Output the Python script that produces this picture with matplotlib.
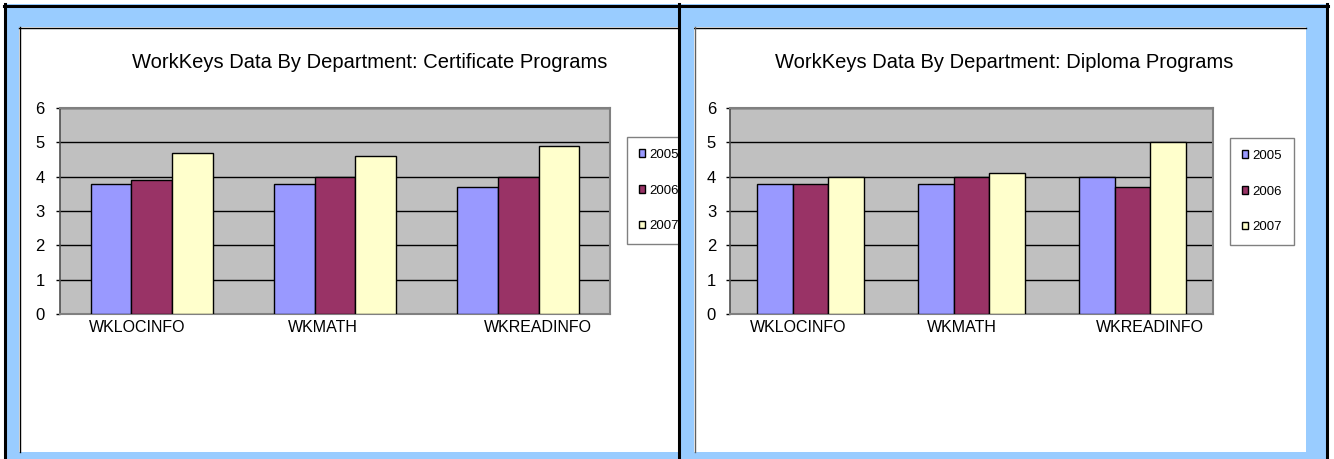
import matplotlib
matplotlib.use("Agg")
import matplotlib.pyplot as plt
import matplotlib.font_manager as fm
from matplotlib.patches import Rectangle
from matplotlib.lines import Line2D
from matplotlib.transforms import ScaledTranslation

# ---------------- data ----------------
categories = ["WKLOCINFO", "WKMATH", "WKREADINFO"]
years = ["2005", "2006", "2007"]
cert_2005 = [3.8, 3.8, 3.7]
cert_2006 = [3.9, 4.0, 4.0]
cert_2007 = [4.7, 4.6, 4.9]
dipl_2005 = [3.8, 3.8, 4.0]
dipl_2006 = [3.8, 4.0, 3.7]
dipl_2007 = [4.0, 4.1, 5.0]
title_cert = "WorkKeys Data By Department: Certificate Programs"
title_dipl = "WorkKeys Data By Department: Diploma Programs"
y_ticks = [0, 1, 2, 3, 4, 5, 6]

# ---------------- style ----------------
colors = ["#9999FF", "#993366", "#FFFFCC"]
BLUE = "#99CCFF"
PLOT_BG = "#C0C0C0"


def pick_font(names):
    for n in names:
        try:
            fm.findfont(fm.FontProperties(family=n), fallback_to_default=False)
            return n
        except Exception:
            pass
    return "DejaVu Sans"


FONT = pick_font(["Liberation Sans Narrow", "Liberation Sans", "DejaVu Sans"])
plt.rcParams["font.family"] = [FONT, "DejaVu Sans"]

W, H = 1334, 459
fig = plt.figure(figsize=(W / 100, H / 100), dpi=100, facecolor="white")


def fx(x):
    return x / W


def fy(y):
    return 1 - y / H


def rect(x0, y0, x1, y1, **kw):
    r = Rectangle((fx(x0), fy(y1)), fx(x1) - fx(x0), fy(y0) - fy(y1),
                  transform=fig.transFigure, **kw)
    fig.add_artist(r)
    return r


def hline(x0, x1, y, **kw):
    fig.add_artist(Line2D([fx(x0), fx(x1)], [fy(y), fy(y)], transform=fig.transFigure, **kw))


def vline(x, y0, y1, **kw):
    fig.add_artist(Line2D([fx(x), fx(x)], [fy(y0), fy(y1)], transform=fig.transFigure, **kw))


# background frame
rect(4, 4, 1328, 459, facecolor=BLUE, edgecolor="none", zorder=-10)
# white panels
rect(19, 27, 679, 452, facecolor="white", edgecolor="none", zorder=-5)
rect(694, 27, 1306, 452, facecolor="white", edgecolor="none", zorder=-5)
hline(19, 679, 27.5, color="black", lw=1, zorder=-4)
vline(19.5, 27, 452, color="black", lw=1, zorder=-4)
hline(694, 1306, 27.5, color="black", lw=1, zorder=-4)
vline(694.5, 27, 452, color="#606060", lw=1, zorder=-4)
# divider strip (covers clipped legend)
rect(679, 27, 694, 452, facecolor=BLUE, edgecolor="none", zorder=10)
# outer black borders
hline(4, 1328, 5.5, color="black", lw=2.2, zorder=11)
vline(5, 4, 459, color="black", lw=2.2, zorder=11)
vline(1327, 4, 459, color="black", lw=2.2, zorder=11)
vline(679, 4, 459, color="black", lw=2.2, zorder=11)


def make_chart(left, right, top, bottom, v05, v06, v07, title, title_cx,
               legend_x, legend_y, label_offsets, ypad):
    ax = fig.add_axes([fx(left), fy(bottom), fx(right) - fx(left), fy(top) - fy(bottom)])
    ax.set_facecolor(PLOT_BG)
    n = len(categories)
    xs = list(range(n))
    w = 2 / 9
    series = [v05, v06, v07]
    for i, (vals, c, yr) in enumerate(zip(series, colors, years)):
        ax.bar([x + (i - 1) * w for x in xs], vals, width=w, color=c,
               edgecolor="black", linewidth=1.0, label=yr, zorder=3)
    ax.set_xlim(-0.5, n - 0.5)
    ax.set_ylim(0, 6)
    ax.set_yticks(y_ticks)
    ax.set_yticklabels([str(t) for t in y_ticks])
    ax.yaxis.grid(True, color="black", linewidth=1.0, zorder=1)
    ax.set_axisbelow(True)
    for s in ["top", "right"]:
        ax.spines[s].set_color("#808080")
        ax.spines[s].set_linewidth(1.5)
    ax.spines["left"].set_color("#505050")
    ax.spines["bottom"].set_color("#808080")
    ax.spines["left"].set_linewidth(1.2)
    ax.spines["bottom"].set_linewidth(1.5)
    ax.tick_params(axis="y", direction="out", length=3, width=1, color="black",
                   labelsize=12, pad=ypad)
    ax.tick_params(axis="x", length=0, labelsize=11.5, pad=4)
    ax.set_xticks(xs)
    ax.set_xticklabels(categories)
    for lab, dx in zip(ax.get_xticklabels(), label_offsets):
        lab.set_transform(lab.get_transform() + ScaledTranslation(dx / 100, 0, fig.dpi_scale_trans))
    fig.text(fx(title_cx), fy(68), title, ha="center", va="baseline", fontsize=14.5,
             color="black")
    leg = ax.legend(loc="upper left", bbox_to_anchor=(fx(legend_x), fy(legend_y)),
                    bbox_transform=fig.transFigure, borderaxespad=0,
                    fontsize=9.5, handlelength=0.5, handleheight=0.5,
                    handletextpad=0.3, labelspacing=1.8, borderpad=0.9,
                    fancybox=False, framealpha=1, edgecolor="#808080",
                    facecolor="white")
    leg.get_frame().set_linewidth(1.0)
    return ax


make_chart(60, 610, 108, 314, cert_2005, cert_2006, cert_2007, title_cert, 370,
           627, 137, [-14, -12, 20], 8)
make_chart(730, 1213, 108, 314, dipl_2005, dipl_2006, dipl_2007, title_dipl, 1004,
           1230, 138, [-12, -10, 17], 7)

fig.savefig("out.png", dpi=100, facecolor="white")
